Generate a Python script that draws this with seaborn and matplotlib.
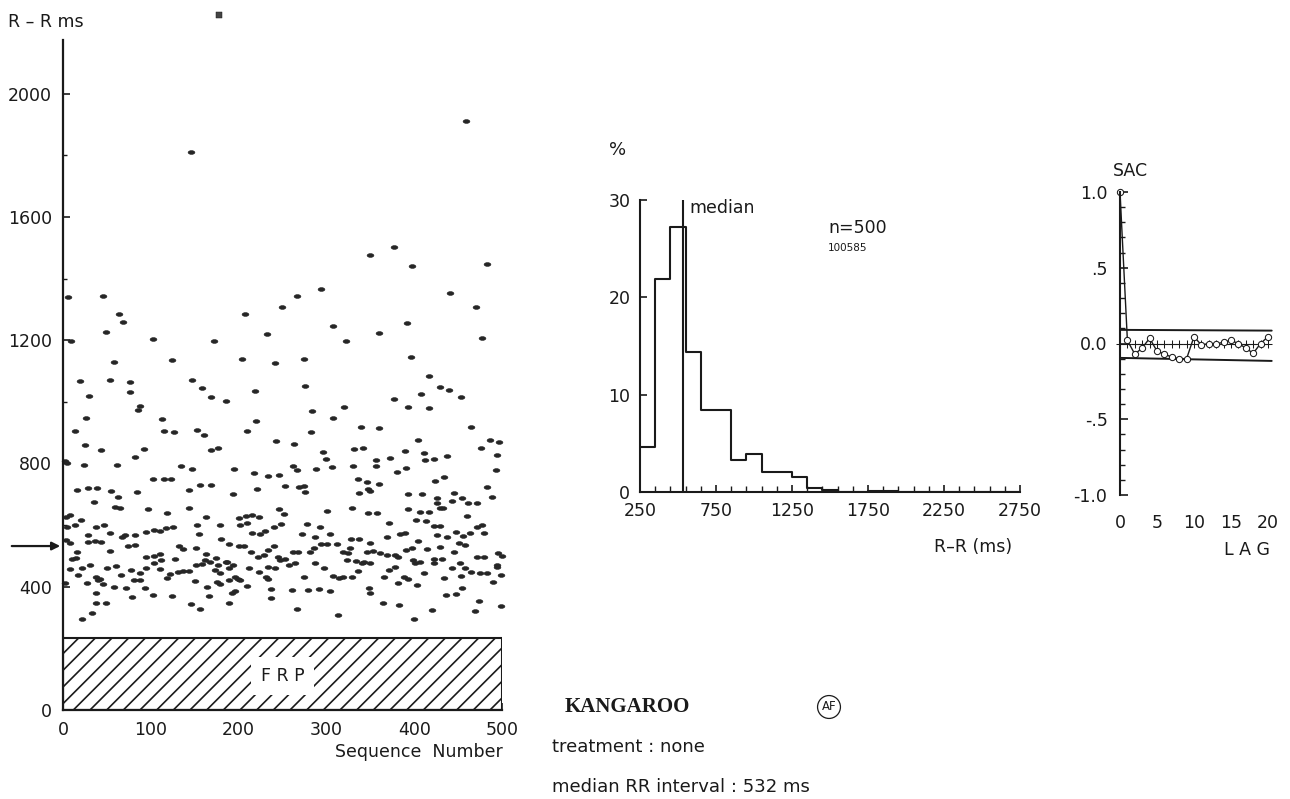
import numpy as np
import pandas as pd
import matplotlib
matplotlib.use("Agg")
import matplotlib.pyplot as plt
import seaborn as sns
from matplotlib.patches import Rectangle
from matplotlib.path import Path
from matplotlib.transforms import Affine2D

# ---------------- data ----------------
seq_no = [6, 9, 19, 30, 45, 49, 58, 53, 64, 68, 76, 76, 102, 124, 146, 147, 158, 168, 172, 204,
          207, 219, 232, 242, 249, 266, 274, 276, 294, 308, 322, 350, 360, 377, 377, 392, 396, 397,
          408, 417, 429, 440, 441, 453, 459, 470, 477, 483,
          186, 320, 284, 393, 417, 85, 88, 307, 113, 26, 14, 115, 126, 153, 161, 210, 220, 339, 360,
          465, 282, 243, 263, 404, 331, 342, 389, 411, 423, 412, 437, 476, 486, 497, 494, 43, 92, 82,
          168, 177, 25, 296, 300, 306, 2, 5, 24, 61, 134, 147, 195, 218, 234, 246, 262, 267, 288, 330,
          357, 357, 372, 380, 391, 493,
          16, 29, 39, 84, 55, 63, 35, 115, 102, 123, 143, 156, 169, 194, 221, 253, 269, 274, 276, 336,
          346, 337, 347, 350, 360, 393, 409, 426, 426, 445, 443, 424, 434, 454, 461, 471, 483, 489, 59,
          65, 97, 144, 163, 118, 200, 208, 215, 223, 246, 252, 301, 329, 347, 393, 407, 417, 433, 460, 429,
          3, 8, 14, 21, 4, 28, 38, 47, 53, 43, 29, 71, 82, 95, 104, 111, 125, 117, 153, 155, 179, 202,
          210, 215, 224, 230, 240, 248, 272, 278, 287, 293, 304, 328, 337, 350, 358, 371, 369, 384, 390,
          404, 402, 414, 422, 429, 426, 437, 448, 456, 464, 471, 477, 480, 451,
          3, 8, 16, 15, 10, 36, 54, 67, 74, 82, 94, 104, 110, 112, 132, 137, 128, 151, 163, 174, 180,
          189, 186, 200, 206, 214, 222, 229, 240, 233, 245, 253, 262, 268, 281, 286, 294, 301, 312, 319,
          325, 323, 327, 334, 343, 346, 353, 361, 369, 378, 382, 391, 398, 399, 407, 415, 422, 429, 432,
          445, 458, 452, 471, 479, 496, 500, 494,
          8, 17, 22, 31, 38, 42, 50, 60, 66, 78, 81, 88, 95, 104, 110, 118, 122, 131, 137, 144, 152,
          158, 162, 167, 173, 177, 179, 187, 189, 194, 196, 202, 212, 223, 231, 234, 242, 247, 257, 264,
          274, 287, 297, 308, 314, 319, 329, 336, 341, 350, 366, 371, 378, 388, 401, 411, 422, 434, 443,
          453, 458, 465, 475, 483, 490, 499, 494,
          2, 27, 38, 40, 45, 58, 72, 79, 88, 93, 102, 124, 150, 164, 166, 175, 179, 189, 192, 196, 199,
          209, 233, 237, 237, 261, 266, 279, 292, 304, 313, 348, 350, 365, 383, 382, 393, 403, 420, 436,
          448, 454, 469, 474, 499, 38, 49, 22, 33, 156, 146, 189, 400]
rr_ms = [1339, 1197, 1069, 1019, 1342, 1227, 1130, 1071, 1286, 1258, 1065, 1031, 1204, 1136, 1811, 1071,
         1044, 1017, 1197, 1140, 1284, 1035, 1220, 1126, 1308, 1342, 1138, 1051, 1366, 1245, 1197, 1475,
         1224, 1502, 1009, 1257, 1144, 1441, 1024, 1085, 1049, 1039, 1353, 1017, 1910, 1308, 1207, 1448,
         1004, 982, 970, 984, 979, 974, 987, 949, 944, 946, 905, 905, 903, 909, 892, 906, 937, 917, 914,
         917, 901, 874, 863, 876, 847, 851, 842, 835, 816, 811, 824, 849, 876, 868, 827, 845, 847, 822,
         845, 851, 860, 838, 813, 790, 808, 803, 795, 796, 793, 781, 783, 770, 760, 764, 793, 779, 781, 792,
         792, 811, 817, 773, 784, 779,
         714, 719, 719, 706, 711, 690, 675, 750, 750, 750, 714, 730, 729, 702, 718, 727, 724, 728, 706, 750,
         739, 704, 716, 709, 733, 701, 701, 687, 672, 703, 677, 744, 755, 687, 673, 673, 722, 691, 659,
         654, 653, 654, 625, 638, 623, 628, 632, 627, 653, 636, 646, 654, 638, 652, 641, 644, 656, 628, 654,
         627, 634, 599, 617, 595, 568, 595, 599, 573, 545, 545, 568, 568, 579, 584, 581, 595, 592, 599, 570,
         601, 601, 606, 573, 572, 582, 595, 605, 571, 605, 562, 595, 571, 556, 554, 541, 640, 606, 562, 571,
         573, 547, 615, 614, 598, 596, 569, 562, 579, 565, 573, 595, 599, 575, 542,
         552, 541, 512, 493, 489, 547, 517, 562, 533, 534, 498, 501, 506, 487, 532, 524, 489, 525, 506, 492,
         555, 540, 481, 533, 532, 513, 498, 504, 533, 519, 498, 491, 514, 514, 514, 527, 539, 538, 538, 514,
         508, 487, 525, 484, 481, 514, 517, 508, 503, 503, 495, 519, 525, 487, 481, 524, 491, 530, 491,
         514, 535, 476, 498, 498, 508, 501, 471,
         456, 438, 462, 471, 433, 426, 460, 467, 438, 454, 422, 444, 462, 476, 458, 427, 440, 449, 451, 452,
         471, 474, 487, 481, 454, 471, 443, 481, 460, 471, 433, 422, 460, 449, 433, 465, 460, 487, 471, 476,
         433, 476, 460, 435, 427, 433, 433, 452, 478, 478, 433, 454, 465, 433, 478, 444, 476, 428, 460,
         435, 460, 449, 444, 444, 416, 438, 465,
         411, 411, 379, 422, 410, 398, 396, 366, 423, 395, 373, 370, 419, 398, 370, 416, 409, 422, 381, 387,
         426, 403, 424, 394, 362, 389, 327, 389, 392, 385, 308, 395, 379, 346, 341, 411, 425, 406, 325, 373,
         376, 395, 321, 354, 337, 346, 346, 295, 314, 328, 344, 346, 296]
outlier_seq = [178]
outlier_rr = [2255]
frp_ms = 235
median_rr = 532

hist_left_edges = [250, 350, 450, 550, 650, 750, 850, 950, 1050, 1150, 1250, 1350, 1450,
                   1550, 1650, 1750, 1850, 1950, 2050, 2150, 2250, 2350, 2450, 2550, 2650]
hist_pct = [4.6, 21.9, 27.2, 14.4, 8.4, 8.4, 3.3, 3.9, 2.1, 2.1, 1.5, 0.4, 0.2,
            0.0, 0.0, 0.1, 0.1, 0.0, 0.0, 0.0, 0.0, 0.0, 0.0, 0.0, 0.0]
hist_bin_width = 100

lags = [0, 1, 2, 3, 4, 5, 6, 7, 8, 9, 10, 11, 12, 13, 14, 15, 16, 17, 18, 19, 20]
sac = [1.0, 0.02, -0.07, -0.03, 0.035, -0.05, -0.07, -0.09, -0.1, -0.1, 0.045, -0.01, 0.0, -0.005,
       0.01, 0.02, 0.0, -0.03, -0.065, 0.0, 0.045]
band_lag = [0, 20.5]
upper_band = [0.09, 0.085]
lower_band = [-0.095, -0.115]

scatter_yticks = [0, 400, 800, 1200, 1600, 2000]
scatter_xticks = [0, 100, 200, 300, 400, 500]
hist_xticks = [250, 750, 1250, 1750, 2250, 2750]
hist_yticks = [0, 10, 20, 30]
sac_xticks = [0, 5, 10, 15, 20]
sac_yticks = [-1.0, -0.5, 0.0, 0.5, 1.0]
sac_yticklabels = ["-1.0", "-.5", "0.0", ".5", "1.0"]

# ---------------- style ----------------
sns.set_style("ticks")
plt.rcParams["font.family"] = ["DejaVu Sans"]
INK = "#1a1a1a"
plt.rcParams["text.color"] = INK
plt.rcParams["axes.edgecolor"] = INK
plt.rcParams["xtick.color"] = INK
plt.rcParams["ytick.color"] = INK
plt.rcParams["hatch.linewidth"] = 1.2
plt.rcParams["hatch.color"] = INK

W, H = 1290, 799
fig = plt.figure(figsize=(W / 100, H / 100), dpi=100)
fig.patch.set_facecolor("white")


def px_axes(x0, y0, x1, y1):
    """axes rectangle from pixel corners (left, top, right, bottom)"""
    return fig.add_axes([x0 / W, 1 - y1 / H, (x1 - x0) / W, (y1 - y0) / H])


# ---------------- scatter (sequence plot) ----------------
ax1 = px_axes(63, 40, 502, 710)
ell = Path.unit_circle().transformed(Affine2D().scale(1.8, 1.0))
df_sc = pd.DataFrame({"seq": seq_no, "rr": rr_ms})
sns.scatterplot(data=df_sc, x="seq", y="rr", ax=ax1, marker=ell, s=24, color="#262626",
                edgecolor="#262626", linewidth=0.4, clip_on=False, legend=False)
sns.scatterplot(x=outlier_seq, y=outlier_rr, ax=ax1, marker="s", s=18, color="#444444",
                edgecolor=INK, clip_on=False, legend=False)
ax1.add_patch(Rectangle((0, 0), 500, frp_ms, facecolor="white", edgecolor=INK,
                        hatch="//", linewidth=1.5, zorder=1))
ax1.text(250, frp_ms * 0.47, "F R P", ha="center", va="center", fontsize=12.5,
         bbox=dict(facecolor="white", edgecolor="none", pad=7), zorder=3)
ax1.set_xlim(0, 500)
ax1.set_ylim(0, 2174)
ax1.set_xticks(scatter_xticks)
ax1.set_yticks(scatter_yticks)
ax1.set_yticks(np.arange(0, 2174, 200), minor=True)
ax1.tick_params(axis="both", which="major", direction="in", length=5, width=1.2,
                labelsize=12.5, pad=8)
ax1.tick_params(axis="y", which="minor", direction="in", length=3, width=1)
for s in ["top", "right"]:
    ax1.spines[s].set_visible(False)
for s in ["left", "bottom"]:
    ax1.spines[s].set_linewidth(1.6)
ax1.set_xlabel("")
ax1.set_ylabel("")
ax1.text(0.81, -0.062, "Sequence  Number", transform=ax1.transAxes, ha="center",
         va="center", fontsize=12.5)
ax1.annotate("", xy=(0, median_rr), xytext=(-54, 0), textcoords="offset pixels",
             arrowprops=dict(arrowstyle="-|>", color=INK, lw=1.6, mutation_scale=12),
             annotation_clip=False)
fig.text(8 / W, 1 - 22 / H, "R – R ms", fontsize=12.5, va="center", ha="left")

# ---------------- histogram ----------------
ax2 = px_axes(640, 200, 1020, 492)
edges = hist_left_edges + [hist_left_edges[-1] + hist_bin_width]
centers = [e + hist_bin_width / 2 for e in hist_left_edges]
sns.histplot(x=centers, weights=hist_pct, bins=edges, element="step", fill=False,
             color=INK, linewidth=1.5, ax=ax2)
ax2.axvline(median_rr, ymin=0, ymax=1.0, color=INK, lw=1.5)
ax2.set_xlim(250, 2750)
ax2.set_ylim(0, 30)
ax2.set_xticks(hist_xticks)
ax2.set_xticks(np.arange(250, 2751, 100), minor=True)
ax2.set_yticks(hist_yticks)
ax2.tick_params(axis="both", which="major", direction="in", length=5, width=1.2,
                labelsize=12.5, pad=7)
ax2.tick_params(axis="x", which="minor", direction="in", length=4, width=1)
for s in ["top", "right"]:
    ax2.spines[s].set_visible(False)
for s in ["left", "bottom"]:
    ax2.spines[s].set_linewidth(1.5)
ax2.set_xlabel("")
ax2.set_ylabel("")
ax2.text(median_rr + 40, 29.2, "median", fontsize=12.5, va="center", ha="left")
ax2.text(1487, 27.1, "n=500", fontsize=12.5, va="center", ha="left")
ax2.text(1487, 25.1, "100585", fontsize=7.5, va="center", ha="left")
ax2.text(0.98, -0.19, "R–R (ms)", transform=ax2.transAxes, ha="right", va="center",
         fontsize=12.5)
fig.text(618 / W, 1 - 150 / H, "%", fontsize=13, ha="center", va="center")

# ---------------- serial autocorrelation ----------------
ax3 = px_axes(1120, 192, 1268, 495)
sns.lineplot(x=band_lag, y=upper_band, ax=ax3, color=INK, lw=1.4, clip_on=False)
sns.lineplot(x=band_lag, y=lower_band, ax=ax3, color=INK, lw=1.4, clip_on=False)
sns.lineplot(x=lags, y=[0.0] * len(lags), ax=ax3, color="#555555", lw=0.8, marker="+",
             markersize=6, markeredgecolor=INK, clip_on=False)
sns.lineplot(x=lags, y=sac, ax=ax3, color=INK, lw=1.0, marker="o", markersize=4.5,
             markerfacecolor="white", markeredgecolor=INK, clip_on=False)
ax3.set_xlim(0, 20)
ax3.set_ylim(-1.0, 1.0)
ax3.set_xticks(sac_xticks)
ax3.set_yticks(sac_yticks)
ax3.set_yticklabels(sac_yticklabels)
ax3.set_yticks(np.arange(-1.0, 1.01, 0.1), minor=True)
ax3.tick_params(axis="y", which="major", direction="in", length=6, width=1.2,
                labelsize=12.5, pad=9)
ax3.tick_params(axis="y", which="minor", direction="in", length=3.5, width=1)
ax3.tick_params(axis="x", which="major", length=0, labelsize=12.5, pad=14)
for s in ["top", "right", "bottom"]:
    ax3.spines[s].set_visible(False)
ax3.spines["left"].set_linewidth(1.5)
ax3.set_xlabel("")
ax3.set_ylabel("")
fig.text(1130 / W, 1 - 171 / H, "SAC", fontsize=12.5, ha="center", va="center")
fig.text(1247 / W, 1 - 550 / H, "L A G", fontsize=12.5, ha="center", va="center")

# ---------------- caption ----------------
fig.text(565 / W, 1 - 707 / H, "KANGAROO", fontsize=15, fontweight="bold",
         family="Liberation Serif", ha="left", va="center")
fig.text(829 / W, 1 - 707 / H, "AF", fontsize=8.5, ha="center", va="center",
         bbox=dict(boxstyle="circle,pad=0.35", facecolor="white", edgecolor=INK, lw=0.9))
fig.text(552 / W, 1 - 747 / H, "treatment : none", fontsize=13, ha="left", va="center")
fig.text(552 / W, 1 - 787 / H, "median RR interval : 532 ms", fontsize=13, ha="left",
         va="center")

fig.savefig("out.png", dpi=100, facecolor="white")
